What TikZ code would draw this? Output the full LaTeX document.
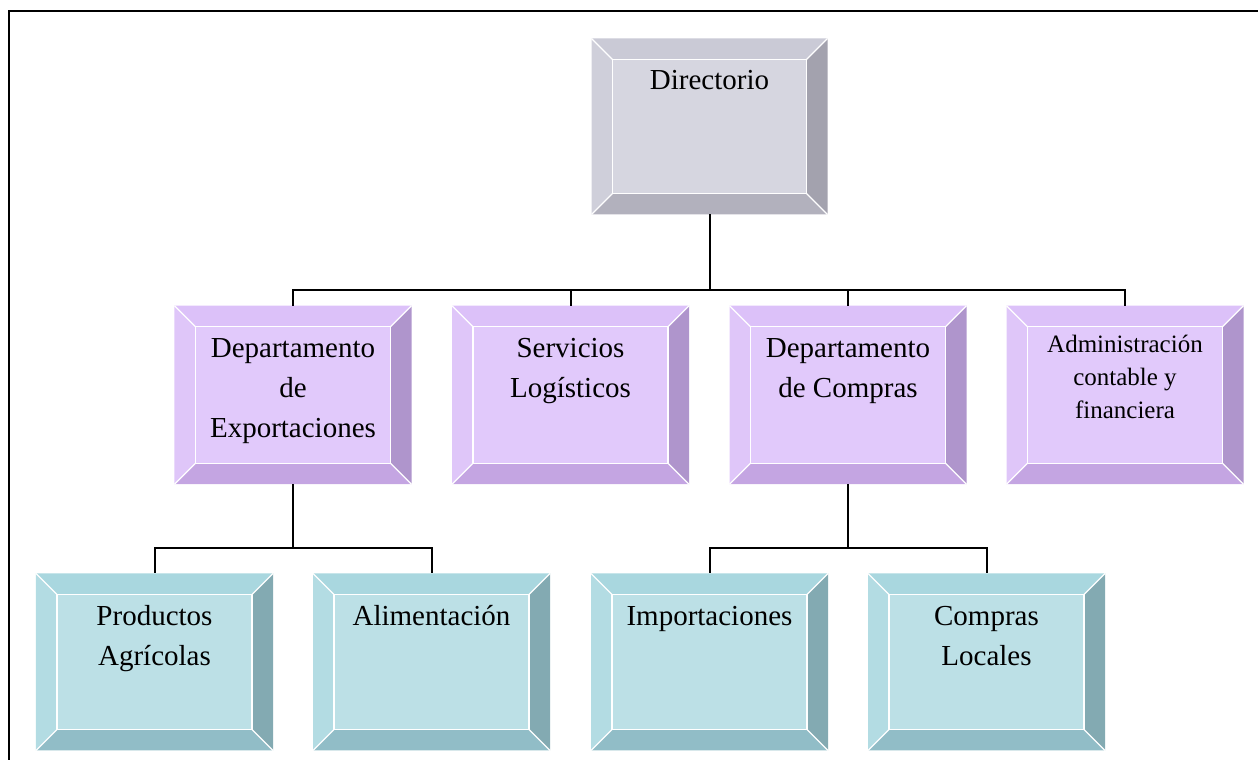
\documentclass[tikz,border=0pt]{standalone}
\usepackage{fontspec}
\setmainfont{Liberation Serif}
\definecolor{greyface}{HTML}{D6D6E0}
\definecolor{greytop}{HTML}{CACAD6}
\definecolor{greyleft}{HTML}{CFCFDA}
\definecolor{greyright}{HTML}{A3A2AE}
\definecolor{greybot}{HTML}{B2B1BD}
\definecolor{purpface}{HTML}{E1C9FB}
\definecolor{purptop}{HTML}{DCC1F9}
\definecolor{purpleft}{HTML}{DFC6F9}
\definecolor{purpright}{HTML}{AF95CC}
\definecolor{purpbot}{HTML}{C4A5E2}
\definecolor{tealface}{HTML}{BCE0E6}
\definecolor{tealtop}{HTML}{A9D7DF}
\definecolor{tealleft}{HTML}{B3DCE3}
\definecolor{tealright}{HTML}{83AAB2}
\definecolor{tealbot}{HTML}{91BDC7}
\usepackage{tikz}
\def\bevw{8.4bp}
\newcommand{\bevel}[2]{%
  \fill[#2top] (#1.north west) -- (#1.north east) -- ([shift={(-\bevw,-\bevw)}]#1.north east) -- ([shift={(\bevw,-\bevw)}]#1.north west) -- cycle;
  \fill[#2right] (#1.north east) -- (#1.south east) -- ([shift={(-\bevw,\bevw)}]#1.south east) -- ([shift={(-\bevw,-\bevw)}]#1.north east) -- cycle;
  \fill[#2bot] (#1.south east) -- (#1.south west) -- ([shift={(\bevw,\bevw)}]#1.south west) -- ([shift={(-\bevw,\bevw)}]#1.south east) -- cycle;
  \fill[#2left] (#1.south west) -- (#1.north west) -- ([shift={(\bevw,-\bevw)}]#1.north west) -- ([shift={(\bevw,\bevw)}]#1.south west) -- cycle;
  \draw[white,line width=0.5bp] ([shift={(\bevw,-\bevw)}]#1.north west) rectangle ([shift={(-\bevw,\bevw)}]#1.south east);
  \draw[white,line width=0.5bp] (#1.north west) -- ++(\bevw,-\bevw) (#1.north east) -- ++(-\bevw,-\bevw)
    (#1.south east) -- ++(-\bevw,\bevw) (#1.south west) -- ++(\bevw,\bevw);
}

\begin{document}
\begin{tikzpicture}[x=0.4bp,y=-0.4bp,
  box/.style={rectangle,inner sep=0pt,minimum width=94.4bp,minimum height=71bp},
  lbl/.style={anchor=north,align=center,inner sep=0pt,font=\fontsize{11.6bp}{16bp}\selectfont},
  small/.style={lbl,font=\fontsize{10bp}{13.2bp}\selectfont},
  link/.style={black,line width=0.8bp}]
\useasboundingbox (0,0) rectangle (1258,760);
\draw[line width=1bp] (9,760) -- (9,11) -- (1258,11);

\node[box,fill=greyface,minimum width=94bp,minimum height=70bp] (dir) at (709.5,126.5) {};
\node[box,fill=purpface] (exp) at (293,395) {};
\node[box,fill=purpface] (log) at (570.5,395) {};
\node[box,fill=purpface] (com) at (848,395) {};
\node[box,fill=purpface] (adm) at (1125,395) {};
\node[box,fill=tealface,minimum height=70.4bp] (agr) at (154.5,662) {};
\node[box,fill=tealface,minimum height=70.4bp] (ali) at (431.5,662) {};
\node[box,fill=tealface,minimum height=70.4bp] (imp) at (709.5,662) {};
\node[box,fill=tealface,minimum height=70.4bp] (loc) at (986.5,662) {};

\bevel{dir}{grey}
\foreach \n in {exp,log,com,adm} {\bevel{\n}{purp}}
\foreach \n in {agr,ali,imp,loc} {\bevel{\n}{teal}}

\node[lbl] (dirt) at ([yshift=-9.2bp]dir.north) {\strut Directorio};
\node[lbl] (expt) at ([yshift=-9.4bp]exp.north) {\strut Departamento\\de\\Exportaciones};
\node[lbl] (logt) at ([yshift=-9.4bp]log.north) {\strut Servicios\\Logísticos};
\node[lbl] (comt) at ([yshift=-9.4bp]com.north) {\strut Departamento\\de Compras};
\node[small] (admt) at ([yshift=-9.4bp]adm.north) {\strut Administración\\contable y\\financiera};
\node[lbl] (agrt) at ([yshift=-9.4bp]agr.north) {\strut Productos\\Agrícolas};
\node[lbl] (alit) at ([yshift=-9.4bp]ali.north) {\strut Alimentación};
\node[lbl] (impt) at ([yshift=-9.4bp]imp.north) {\strut Importaciones};
\node[lbl] (loct) at ([yshift=-9.4bp]loc.north) {\strut Compras\\Locales};

\foreach \n in {exp,log,com,adm} \draw[link] (dir.south) -- ++(0,76) -| (\n.north);
\foreach \n in {agr,ali} \draw[link] (exp.south) -- ++(0,64) -| (\n.north);
\foreach \n in {imp,loc} \draw[link] (com.south) -- ++(0,64) -| (\n.north);
\end{tikzpicture}
\end{document}
